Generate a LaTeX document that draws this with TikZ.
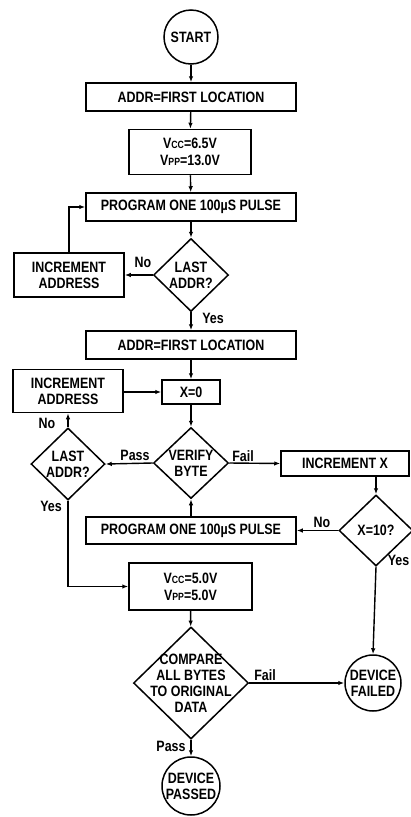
\documentclass[tikz,border=0pt]{standalone}
\usepackage{fontspec}
\setmainfont{Liberation Sans}[FakeStretch=0.83]
\usetikzlibrary{shapes.geometric,arrows.meta}
\newcommand{\sub}[1]{{\fontsize{10.5}{10}\selectfont #1}}
\tikzset{
  every node/.style={font=\fontsize{15}{16}\selectfont\bfseries, inner sep=0pt},
  box/.style={draw, line width=1.5pt, rectangle, align=center},
  dia/.style={draw, line width=1.5pt, diamond, shape aspect=1},
  term/.style={draw, line width=1.5pt, circle, align=center},
  lab/.style={},
  conn/.style={line width=1.4pt, -{Latex[length=6pt,width=4.5pt]}},
  plain/.style={line width=1.4pt}
}
\begin{document}
\begin{tikzpicture}[x=1pt,y=-1pt]
\useasboundingbox (0,0) rectangle (410,817);
\node[term, minimum size=54pt] (start) at (191,37) {START};
\node[box, minimum width=210pt, minimum height=28pt] (a1) at (191,97) {ADDR=FIRST LOCATION};
\node[box, minimum width=122pt, minimum height=45pt] (v1) at (190,152) {V\sub{CC}=6.5V\\[1pt]V\sub{PP}=13.0V};
\node[box, minimum width=210pt, minimum height=28pt] (p1) at (191,207) {PROGRAM ONE 100µS PULSE};
\node[dia, minimum width=75pt, minimum height=73pt, label={[align=center]center:LAST\\ADDR?}] (d1) at (191,275) {};
\node[box, minimum width=110pt, minimum height=44pt] (i1) at (69,275) {INCREMENT\\ADDRESS};
\node[box, minimum width=210pt, minimum height=28pt] (a2) at (191,345) {ADDR=FIRST LOCATION};
\node[box, minimum width=58pt, minimum height=24pt] (x0) at (191,392) {X=0};
\node[box, minimum width=110pt, minimum height=43pt] (i2) at (68,391) {INCREMENT\\ADDRESS};
\node[dia, minimum width=75pt, minimum height=71pt, label={[align=center]center:VERIFY\\BYTE}] (vb) at (191,463) {};
\node[dia, minimum width=74pt, minimum height=72pt, label={[align=center]center:LAST\\ADDR?}] (d2) at (68,464) {};
\node[box, minimum width=128pt, minimum height=25pt] (ix) at (345,463.5) {INCREMENT X};
\node[dia, minimum width=74pt, minimum height=71pt, label={[align=center]center:X=10?}] (d3) at (376,530.5) {};
\node[box, minimum width=210pt, minimum height=27pt] (p2) at (191,530.5) {PROGRAM ONE 100µS PULSE};
\node[box, minimum width=123pt, minimum height=47pt] (v2) at (190.5,586.5) {V\sub{CC}=5.0V\\[1pt]V\sub{PP}=5.0V};
\node[dia, minimum width=115pt, minimum height=112pt, label={[align=center]center:COMPARE\\ALL BYTES\\TO ORIGINAL\\DATA}] (cmp) at (191,683) {};
\node[term, minimum size=56pt] (fail) at (373,683) {DEVICE\\FAILED};
\node[term, minimum size=58pt] (pass) at (191,786) {DEVICE\\PASSED};
% labels
\node[lab] (l1) at (143,262) {No};
\node[lab] (l2) at (213,318) {Yes};
\node[lab] (l3) at (135,455) {Pass};
\node[lab] (l4) at (47,423) {No};
\node[lab] (l5) at (51,506) {Yes};
\node[lab] (l6) at (243,456) {Fail};
\node[lab] (l7) at (322,522) {No};
\node[lab, anchor=east] (l8) at (409.5,560) {Yes};
\node[lab] (l9) at (265,675) {Fail};
\node[lab] (l10) at (171,746) {Pass};
% connectors
\draw[conn] (start) -- (a1);
\draw[conn] (a1) -- (v1);
\draw[conn] (v1) -- (p1);
\draw[conn] (p1) -- (d1);
\draw[conn] (d1.west) -- (i1.east);
\draw[conn] (i1.north) |- (p1.west);
\draw[conn] (d1.south) -- (a2);
\draw[conn] (a2) -- (x0);
\draw[conn] (i2.east |- x0.west) -- (x0.west);
\draw[conn] (x0) -- (vb);
\draw[conn] (vb.west) -- (d2.east);
\draw[conn] (d2.north) -- (i2.south);
\draw[conn] (vb.east) -- (ix.west);
\draw[conn] (d3.north |- ix.south) -- (d3.north);
\draw[conn] (d3.west) -- (p2.east);
\draw[conn] (p2.north) -- (vb.south);
\draw[conn] (d2.south) |- (v2.west);
\draw[conn] (v2) -- (cmp);
\draw[conn] (cmp.east) -- (fail.west);
\draw[conn] (cmp.south) -- (pass);
\draw[conn] (d3.south) -- (fail.north);
\end{tikzpicture}
\end{document}
